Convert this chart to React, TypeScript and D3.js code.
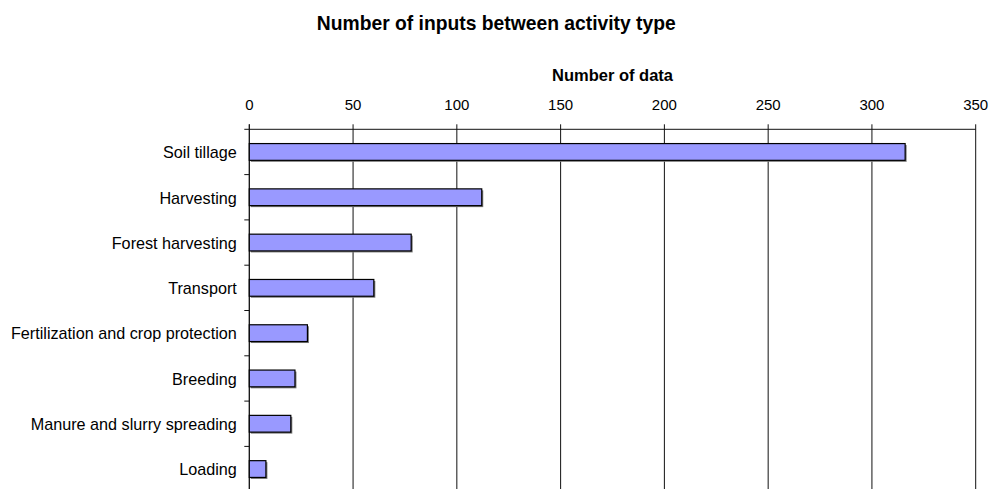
import React from "react";
import * as d3 from "d3";

const categories = [
  "Soil tillage",
  "Harvesting",
  "Forest harvesting",
  "Transport",
  "Fertilization and crop protection",
  "Breeding",
  "Manure and slurry spreading",
  "Loading",
];
const values = [316, 112, 78, 60, 28, 22, 20, 8];
const xTicks = [0, 50, 100, 150, 200, 250, 300, 350];
const title = "Number of inputs between activity type";
const xTitle = "Number of data";

export default function App() {
  const W = 994;
  const H = 489;
  const left = 249.3;
  const right = 975.7;
  const top = 129.3;
  const step = 45.3;
  const bottom = top + step * categories.length;

  const x = d3.scaleLinear().domain([0, 350]).range([left, right]);
  const y = d3
    .scaleBand<string>()
    .domain(categories)
    .range([top, bottom])
    .paddingInner(0.63)
    .paddingOuter(0.315);

  const font = "'Liberation Sans', Arial, sans-serif";

  return (
    <svg
      width={W}
      height={H}
      style={{ position: "absolute", left: 0, top: 0, background: "#fff" }}
      fontFamily={font}
    >
      <text x={496.3} y={30} textAnchor="middle" fontWeight="bold" fontSize={19.3}>
        {title}
      </text>
      <text x={(left + right) / 2} y={80.5} textAnchor="middle" fontWeight="bold" fontSize={16.5}>
        {xTitle}
      </text>
      {xTicks.map((t) => (
        <g key={t}>
          <line x1={x(t)} x2={x(t)} y1={top - 5} y2={H} stroke="#111" strokeWidth={1} />
          <text x={x(t)} y={110} textAnchor="middle" fontSize={15}>
            {t}
          </text>
        </g>
      ))}
      <line x1={left - 5} x2={right} y1={top} y2={top} stroke="#111" strokeWidth={1} />
      <line x1={left} x2={left} y1={top - 5} y2={H} stroke="#111" strokeWidth={1} />
      {categories.map((c, i) => (
        <line
          key={"t" + c}
          x1={left - 5}
          x2={left}
          y1={top + step * (i + 1)}
          y2={top + step * (i + 1)}
          stroke="#111"
        />
      ))}
      {categories.map((c, i) => {
        const yy = y(c)!;
        const bh = y.bandwidth();
        const w = x(values[i]) - x(0);
        return (
          <g key={c}>
            <rect x={x(0) + 1.5} y={yy + 1.5} width={w} height={bh} fill="#777" />
            <rect x={x(0)} y={yy} width={w} height={bh} fill="#9999FF" stroke="#000" strokeWidth={1.2} />
            <text x={left - 12.5} y={yy + bh / 2 + 6.3} textAnchor="end" fontSize={16.2}>
              {c}
            </text>
          </g>
        );
      })}
    </svg>
  );
}
